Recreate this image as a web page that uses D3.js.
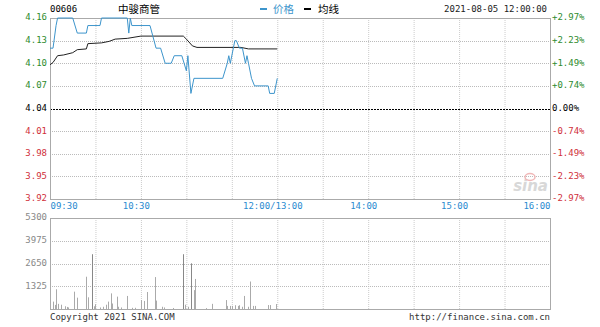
<!DOCTYPE html>
<html>
<head>
<meta charset="utf-8">
<script src="https://cdn.jsdelivr.net/npm/d3@7"></script>
<style>
  body { margin: 0; background: #fff; }
  svg text { font-family: "DejaVu Sans Mono", monospace; font-size: 9px; }
</style>
</head>
<body>
<div class="chart"></div>
<script>
// minute-chart data (minutes after 09:30, lunch break removed)
var stockCode = '00606'
var stockName = '中骏商管'
var stamp = '2021-08-05 12:00:00'
var prevClose = 4.04

var priceTicks = [4.16, 4.13, 4.10, 4.07, 4.04, 4.01, 3.98, 3.95, 3.92]
var volTicks = [5300, 3975, 2650, 1325]
var timeTicks = [0, 60, 150, 210, 270, 330]
var timeLabels = ['09:30', '10:30', '12:00/13:00', '14:00', '15:00', '16:00']

var priceMin = [0, 2, 4, 5, 15, 18, 24, 25, 33, 34, 51, 52, 53, 54, 66, 70, 73, 76, 80, 82, 87, 90, 91, 93, 95,
    114, 117, 118, 119, 122, 123, 125, 127, 129, 130, 131, 133, 135, 144, 145, 148, 150]
var priceVal = [4.12, 4.12, 4.15, 4.16, 4.16, 4.14, 4.14, 4.15, 4.15, 4.16, 4.16, 4.14, 4.16, 4.15, 4.15, 4.12,
    4.12, 4.10, 4.10, 4.11, 4.11, 4.09, 4.11, 4.06, 4.08, 4.08, 4.10, 4.11, 4.10, 4.13, 4.13, 4.12, 4.12, 4.10,
    4.11, 4.10, 4.08, 4.07, 4.07, 4.06, 4.06, 4.08]

var avgMin = [0, 2, 5, 9, 15, 18, 24, 25, 34, 39, 43, 51, 60, 88, 90, 94, 97, 126, 131, 150]
var avgVal = [4.098, 4.101, 4.110, 4.111, 4.114, 4.118, 4.119, 4.126, 4.127, 4.129, 4.132, 4.133, 4.136,
    4.136, 4.132, 4.123, 4.121, 4.121, 4.119, 4.119]

var volMin = [2, 3, 4, 5, 7, 10, 11, 12, 16, 18, 24, 25, 28, 29, 30, 33, 35, 37, 38, 40, 41, 44, 45, 47, 51,
    54, 56, 60, 62, 64, 69, 70, 74, 75, 81, 88, 89, 91, 93, 95, 96, 103, 107, 116, 117, 119, 120, 122, 124,
    125, 127, 128, 131, 132, 134, 135, 144, 145, 149]
var volVal = [430, 240, 1150, 300, 250, 160, 120, 90, 1010, 660, 1880, 680, 3190, 160, 280, 90, 130, 250, 430,
    910, 320, 720, 130, 90, 760, 70, 70, 520, 470, 990, 1860, 490, 130, 90, 60, 3190, 250, 130, 2660, 1100,
    1750, 50, 300, 520, 180, 180, 180, 220, 180, 220, 130, 760, 130, 1600, 180, 180, 230, 230, 290]

var W = 600, H = 327
var left = 50, right = 550
var pTop = 18, pBottom = 199
var vTop = 218, vBottom = 309

var svg = d3.select('.chart').append('svg').attr('width', W).attr('height', H)

var x = d3.scaleLinear().domain([0, 330]).range([left, right])
var y = d3.scaleLinear().domain([3.92, 4.16]).range([pBottom, pTop])
var yv = d3.scaleLinear().domain([0, 5300]).range([vBottom, vTop])
var pct = d3.scaleLinear().domain([3.92, 4.16]).range([pBottom, pTop])

var grid30 = d3.range(30, 330, 30)

// price panel grid
svg.append('g').selectAll('line').data(grid30).join('line')
    .attr('x1', d => x(d) + 0.5).attr('x2', d => x(d) + 0.5)
    .attr('y1', pTop).attr('y2', pBottom)
    .attr('stroke', '#ccc').attr('stroke-dasharray', '1,1')
svg.append('g').selectAll('line').data(priceTicks.filter(d => d !== prevClose && d !== 4.16 && d !== 3.92)).join('line')
    .attr('x1', left).attr('x2', right)
    .attr('y1', d => Math.round(y(d)) + 0.5).attr('y2', d => Math.round(y(d)) + 0.5)
    .attr('stroke', '#bbb').attr('stroke-dasharray', '1,1')
svg.append('line')
    .attr('x1', left).attr('x2', right)
    .attr('y1', Math.round(y(prevClose)) + 0.5).attr('y2', Math.round(y(prevClose)) + 0.5)
    .attr('stroke', '#000').attr('stroke-dasharray', '2,1')
svg.append('rect')
    .attr('x', left + 0.5).attr('y', pTop + 0.5)
    .attr('width', right - left).attr('height', pBottom - pTop)
    .attr('fill', 'none').attr('stroke', '#aaa')

// volume panel grid
svg.append('g').selectAll('line').data(grid30).join('line')
    .attr('x1', d => x(d) + 0.5).attr('x2', d => x(d) + 0.5)
    .attr('y1', vTop).attr('y2', vBottom)
    .attr('stroke', '#ccc').attr('stroke-dasharray', '1,1')
svg.append('g').selectAll('line').data(volTicks.slice(1)).join('line')
    .attr('x1', left).attr('x2', right)
    .attr('y1', d => Math.round(yv(d)) + 0.5).attr('y2', d => Math.round(yv(d)) + 0.5)
    .attr('stroke', '#bbb').attr('stroke-dasharray', '1,1')
svg.append('rect')
    .attr('x', left + 0.5).attr('y', vTop + 0.5)
    .attr('width', right - left).attr('height', vBottom - vTop)
    .attr('fill', 'none').attr('stroke', '#aaa')

// watermark
var logo = svg.append('g')
logo.append('text').attr('x', 548).attr('y', 191).attr('text-anchor', 'end')
    .style('font-family', 'DejaVu Sans').style('font-size', '15px').style('font-style', 'italic')
    .style('font-weight', 'bold').attr('fill', '#d8d8d8').text('sina')
logo.append('ellipse').attr('cx', 530).attr('cy', 177).attr('rx', 5).attr('ry', 3.5)
    .attr('fill', 'none').attr('stroke', '#f0b8b8').attr('stroke-width', 1.5)

// volume bars
svg.append('g').selectAll('line').data(volMin.map((m, i) => [m, volVal[i]])).join('line')
    .attr('x1', d => Math.round(x(d[0])) + 0.5).attr('x2', d => Math.round(x(d[0])) + 0.5)
    .attr('y1', vBottom).attr('y2', d => yv(d[1]))
    .attr('stroke', d => d[1] > 2500 ? '#888' : '#aaa').attr('stroke-width', 1)

// lines
var line = d3.line().x(d => x(d[0])).y(d => y(d[1]))
svg.append('path').datum(avgMin.map((m, i) => [m, avgVal[i]]))
    .attr('d', line).attr('fill', 'none').attr('stroke', '#222').attr('stroke-width', 1)
svg.append('path').datum(priceMin.map((m, i) => [m, priceVal[i]]))
    .attr('d', line).attr('fill', 'none').attr('stroke', '#3d95cc').attr('stroke-width', 1)

// axes for labels
function colorFor(p) { return p > prevClose ? '#2e8b2e' : (p < prevClose ? '#d0303a' : '#000') }

var yAxis = svg.append('g').attr('transform', `translate(${left - 3}, -1)`)
    .call(d3.axisLeft(y).tickValues(priceTicks).tickSize(0).tickPadding(0).tickFormat(d3.format('.2f')))
yAxis.select('.domain').remove()
yAxis.selectAll('text').attr('fill', d => colorFor(d)).style('font-family', '"DejaVu Sans Mono"')

var yAxisR = svg.append('g').attr('transform', `translate(${right + 2}, -1)`)
    .call(d3.axisRight(pct).tickValues(priceTicks).tickSize(0).tickPadding(0)
        .tickFormat(d => {
            var v = (d - prevClose) / prevClose * 100
            return (v > 0.001 ? '+' : (v < -0.001 ? '-' : '')) + Math.abs(v).toFixed(2) + '%'
        }))
yAxisR.select('.domain').remove()
yAxisR.selectAll('text').attr('fill', d => colorFor(d)).style('font-family', '"DejaVu Sans Mono"')

var vAxis = svg.append('g').attr('transform', `translate(${left - 3}, -1)`)
    .call(d3.axisLeft(yv).tickValues(volTicks).tickSize(0).tickPadding(0).tickFormat(d3.format('d')))
vAxis.select('.domain').remove()
vAxis.selectAll('text').attr('fill', '#888').style('font-family', '"DejaVu Sans Mono"')

var xAxis = svg.append('g').attr('transform', `translate(0, ${pBottom + 4})`)
    .call(d3.axisBottom(x).tickValues(timeTicks).tickSize(0).tickPadding(0)
        .tickFormat((d, i) => timeLabels[i]))
xAxis.select('.domain').remove()
xAxis.selectAll('text').attr('fill', '#2a8ad0').style('font-family', '"DejaVu Sans Mono"')
    .attr('text-anchor', (d, i) => i === 0 ? 'start' : (i === timeTicks.length - 1 ? 'end' : 'middle'))
    .attr('dx', (d, i) => i === 0 || i === timeTicks.length - 1 ? 0 : -5)

// header
svg.append('text').attr('x', 50).attr('y', 12).attr('fill', '#000').text(stockCode)
svg.append('text').attr('x', 139).attr('y', 13).attr('text-anchor', 'middle')
    .style('font-family', '"Noto Sans CJK SC"').style('font-size', '10.5px').attr('fill', '#000').text(stockName)
svg.append('rect').attr('x', 260).attr('y', 8).attr('width', 7).attr('height', 2).attr('fill', '#3d95cc')
svg.append('text').attr('x', 273).attr('y', 13)
    .style('font-family', '"Noto Sans CJK SC"').style('font-size', '10.5px').attr('fill', '#3d95cc').text('价格')
svg.append('rect').attr('x', 304).attr('y', 8).attr('width', 7).attr('height', 2).attr('fill', '#000')
svg.append('text').attr('x', 318).attr('y', 13)
    .style('font-family', '"Noto Sans CJK SC"').style('font-size', '10.5px').attr('fill', '#000').text('均线')
svg.append('text').attr('x', 547).attr('y', 12).attr('text-anchor', 'end').attr('fill', '#222').text(stamp)

// footer
svg.append('text').attr('x', 50).attr('y', 320).attr('fill', '#333').text('Copyright 2021 SINA.COM')
svg.append('text').attr('x', 550).attr('y', 320).attr('text-anchor', 'end').attr('fill', '#333')
    .text('http://finance.sina.com.cn')
</script>
</body>
</html>
